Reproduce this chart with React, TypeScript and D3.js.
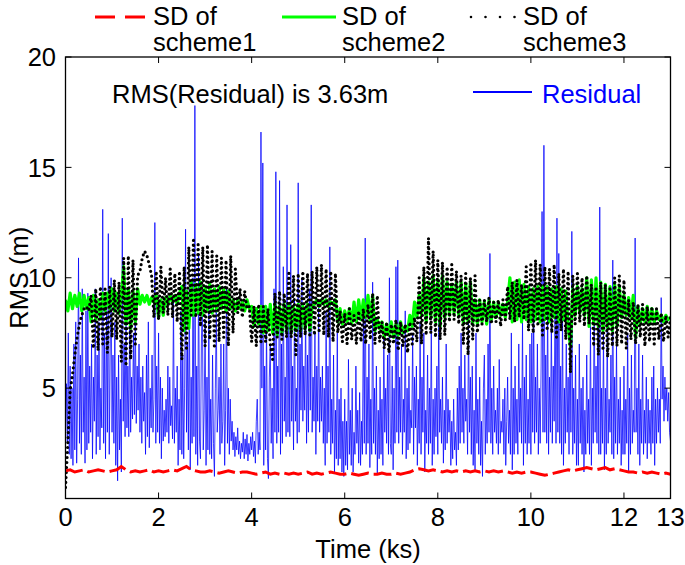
import React from "react";
import * as d3 from "d3";

// ---- data ----
const xTicks = [0, 2, 4, 6, 8, 10, 12, 13];
const yTicks = [0, 5, 10, 15, 20];
const residualStep = 0.02; // ks
const residual = [
  3.0, 5.2, 2.5, 7.5, 2.0, 6.0, 1.8, 5.0, 1.5, 7.0, 2.2, 8.0, 1.6, 4.5, 10.9, 2.5, 6.5, 2.0, 9.5, 3.0, 5.5, 1.6, 8.5, 2.2, 9.3,
  2.5, 6.0, 3.0, 7.0, 1.8, 5.5, 3.5, 9.5, 2.0, 6.5, 2.8, 8.0, 2.2, 5.0, 3.2, 13.1, 2.5, 7.5, 1.8, 8.5, 3.0, 12.0, 2.0, 6.5, 10.0,
  3.0, 6.5, 2.5, 8.0, 1.5, 5.5, 0.8, 6.5, 2.2, 4.5, 1.2, 12.7, 3.5, 7.0, 2.8, 9.0, 3.2, 6.0, 2.8, 9.0, 3.0, 5.5, 3.6, 7.5, 3.8,
  8.5, 3.4, 6.0, 4.0, 7.0, 3.0, 5.5, 2.5, 6.0, 3.5, 4.8, 2.0, 6.5, 2.8, 8.0, 2.3, 5.0, 3.2, 6.5, 3.0, 4.5, 12.5, 2.5, 6.0, 3.0,
  7.5, 2.5, 5.5, 1.8, 5.0, 2.6, 4.0, 2.8, 4.5, 3.0, 6.0, 2.5, 5.5, 3.3, 4.2, 2.7, 9.0, 2.5, 5.0, 3.0, 6.0, 1.5, 4.5, 2.2, 8.5,
  2.0, 6.5, 1.8, 5.0, 12.2, 3.0, 7.0, 2.2, 9.5, 1.3, 5.5, 2.5, 10.0, 2.8, 17.8, 2.0, 6.0, 1.5, 11.0, 2.6, 1.8, 7.0, 9.5, 2.2, 4.0,
  8.0, 1.5, 5.5, 2.2, 9.0, 2.0, 4.5, 1.8, 6.5, 2.5, 1.0, 5.0, 8.5, 3.0, 4.0, 5.5, 2.0, 7.0, 2.5, 3.5, 7.0, 1.5, 4.0, 9.5, 2.5,
  5.0, 2.0, 4.5, 2.6, 3.5, 2.2, 3.0, 1.9, 2.8, 2.2, 3.2, 2.0, 2.6, 1.8, 2.5, 2.1, 3.0, 1.8, 2.7, 2.0, 2.9, 1.7, 2.5, 2.0, 2.8,
  2.2, 3.0, 1.9, 2.6, 1.6, 3.5, 4.5, 2.0, 3.0, 2.2, 16.6, 5.0, 15.2, 1.5, 6.0, 2.2, 8.0, 1.8, 0.9, 5.5, 7.0, 2.5, 5.0, 1.8, 9.5,
  3.0, 14.8, 2.5, 6.0, 3.0, 14.4, 2.0, 7.0, 2.5, 10.5, 3.5, 5.5, 2.8, 13.3, 3.0, 8.0, 2.8, 11.5, 3.5, 6.0, 2.2, 9.0, 3.5, 5.0, 2.5,
  14.3, 3.0, 7.0, 4.0, 10.0, 3.5, 6.0, 4.0, 8.5, 2.5, 6.5, 3.0, 9.5, 4.0, 13.3, 3.0, 5.5, 3.5, 7.5, 2.0, 6.0, 3.5, 9.0, 3.0, 5.5,
  3.5, 6.0, 2.5, 5.0, 1.5, 8.5, 2.5, 6.0, 3.0, 11.4, 2.0, 4.5, 2.5, 6.5, 1.2, 4.0, 1.8, 7.5, 1.5, 4.5, 1.8, 5.0, 1.2, 3.5, 1.0,
  4.5, 1.5, 3.5, 1.3, 6.3, 2.0, 4.0, 1.5, 5.0, 1.2, 3.0, 2.0, 6.0, 2.5, 4.0, 1.6, 4.8, 1.5, 3.5, 2.0, 8.5, 2.5, 11.8, 2.0, 5.5,
  2.5, 7.0, 1.4, 4.5, 2.0, 9.8, 2.5, 5.0, 2.0, 6.0, 1.1, 4.0, 1.8, 5.5, 2.0, 4.5, 1.5, 7.5, 3.0, 5.0, 2.5, 6.5, 2.0, 10.0, 2.5,
  2.0, 6.0, 1.3, 5.0, 2.5, 10.5, 3.0, 10.8, 2.5, 5.5, 3.0, 7.0, 2.0, 4.5, 3.0, 8.5, 1.8, 5.0, 2.2, 6.0, 2.5, 4.0, 3.2, 7.5, 2.0,
  5.5, 3.2, 6.0, 1.5, 4.5, 2.5, 8.0, 2.0, 5.5, 3.0, 7.5, 1.2, 4.0, 2.5, 6.5, 2.0, 5.0, 2.5, 7.8, 1.5, 4.5, 2.0, 5.0, 2.8, 6.0,
  2.0, 8.0, 3.0, 4.5, 2.5, 5.5, 1.6, 4.0, 2.2, 7.0, 2.5, 4.5, 3.0, 4.0, 1.5, 3.5, 1.8, 4.5, 2.2, 3.0, 1.5, 5.0, 2.2, 6.0, 2.5,
  7.5, 3.0, 5.0, 2.5, 6.5, 3.5, 4.5, 2.0, 8.0, 3.0, 5.5, 2.0, 6.0, 1.5, 4.0, 1.3, 7.5, 2.5, 4.5, 2.0, 5.5, 1.5, 3.5, 1.0, 5.0,
  6.5, 2.0, 4.5, 2.5, 7.0, 3.0, 11.1, 2.5, 5.0, 2.0, 6.0, 3.0, 4.0, 2.5, 5.0, 2.0, 6.3, 2.5, 3.5, 3.0, 4.5, 2.0, 5.0, 1.5, 3.5,
  5.5, 2.5, 4.0, 2.0, 7.5, 1.3, 5.0, 2.0, 6.0, 2.5, 4.5, 2.0, 7.0, 3.0, 5.0, 2.5, 8.0, 1.5, 5.5, 2.5, 6.5, 2.0, 4.5, 2.5, 7.0,
  2.0, 7.5, 3.0, 8.5, 2.5, 5.5, 3.0, 7.0, 2.0, 5.0, 2.5, 6.0, 13.0, 3.0, 16.0, 3.0, 6.5, 2.5, 9.0, 2.0, 5.5, 3.0, 8.0, 2.5, 6.0,
  3.5, 9.5, 2.5, 12.7, 3.0, 11.1, 2.5, 6.0, 2.0, 8.5, 1.5, 5.0, 2.5, 7.0, 3.0, 5.5, 2.0, 8.0, 3.0, 12.1, 2.0, 5.0, 2.5, 6.5, 1.5,
  4.5, 1.5, 7.0, 2.5, 5.0, 2.0, 5.5, 1.2, 4.0, 2.0, 6.5, 2.5, 4.5, 2.0, 8.0, 1.5, 5.0, 2.5, 9.5, 3.0, 6.0, 2.5, 8.5, 2.0, 13.2,
  2.0, 5.0, 2.5, 7.5, 1.3, 5.0, 2.0, 8.0, 2.5, 4.5, 3.0, 6.5, 2.0, 10.8, 1.8, 5.5, 2.5, 7.0, 2.0, 4.5, 2.5, 5.5, 1.5, 4.0, 2.0,
  6.0, 2.0, 4.5, 2.5, 7.5, 1.2, 5.0, 2.0, 6.5, 2.5, 4.0, 3.0, 11.8, 3.0, 5.0, 2.0, 7.0, 1.5, 4.5, 2.5, 6.5, 2.0, 4.0, 2.5, 5.5,
  1.8, 4.5, 2.5, 4.0, 2.0, 5.5, 2.5, 6.0, 1.5, 4.5, 2.5, 5.0, 3.0, 4.5, 2.5, 9.1, 4.5, 6.0, 3.5, 5.5, 4.0, 5.0, 3.5, 4.8, 3.0,
  2.6,
];

const schemeStep = 0.05; // ks
const scheme3 = [
  0.5, 2.5, 4.9, 5.6, 6.5, 7.3, 7.9, 8.3, 8.6, 8.7, 8.5, 9.2, 6.8, 9.5, 6.7, 9.6, 7.0, 9.5, 6.6, 9.6,
  7.3, 9.9, 7.2, 9.8, 6.2, 10.9, 6.0, 11.0, 6.3, 10.8, 7.0, 10.1, 10.3, 10.9, 11.2, 11.0, 10.6, 10.1, 8.2, 10.3,
  8.1, 10.5, 8.4, 10.0, 8.3, 10.4, 8.2, 10.2, 8.0, 10.3, 6.3, 10.5, 6.7, 11.4, 8.3, 11.7, 8.2, 11.5, 7.8, 11.4,
  6.9, 11.5, 7.2, 11.2, 6.8, 11.0, 7.1, 10.9, 7.3, 10.8, 6.9, 11.0, 7.5, 10.4, 8.4, 9.5, 8.2, 9.4, 8.6, 8.7,
  7.1, 8.7, 6.9, 8.8, 7.0, 8.7, 7.1, 8.6, 7.0, 6.3, 9.3, 7.3, 9.4, 7.2, 9.3, 7.3, 10.2, 7.3, 10.1, 6.5,
  10.2, 7.3, 10.3, 7.4, 10.2, 7.3, 10.3, 7.4, 10.5, 7.5, 10.6, 7.4, 10.4, 7.3, 10.3, 7.1, 10.2, 7.5, 8.5, 7.1,
  8.4, 7.0, 8.6, 7.2, 8.3, 7.0, 8.5, 7.1, 8.6, 7.0, 8.8, 7.2, 9.3, 7.0, 9.2, 7.1, 8.0, 6.8, 8.0, 6.6,
  7.9, 7.0, 8.1, 6.7, 8.0, 6.9, 7.9, 6.6, 8.0, 7.0, 8.2, 7.1, 10.0, 7.0, 10.5, 7.4, 11.8, 7.5, 11.2, 7.3,
  10.8, 7.2, 10.7, 7.4, 10.5, 8.0, 10.6, 8.1, 10.3, 7.9, 10.1, 7.0, 10.2, 6.5, 10.0, 7.2, 10.1, 7.5, 9.0, 7.9,
  9.0, 8.0, 9.1, 7.9, 8.9, 8.0, 9.0, 7.8, 9.0, 8.1, 9.6, 8.1, 9.8, 8.0, 9.9, 8.2, 9.7, 8.1, 10.5, 7.6,
  10.7, 7.5, 10.8, 7.8, 10.6, 7.4, 10.5, 7.6, 10.4, 7.5, 10.6, 7.3, 10.2, 7.6, 10.4, 7.2, 10.3, 5.7, 10.1, 7.9,
  10.2, 8.0, 10.0, 7.8, 10.1, 7.9, 9.7, 6.9, 9.6, 6.5, 9.8, 6.7, 9.7, 6.4, 9.6, 6.9, 10.0, 6.9, 10.1, 7.0,
  9.9, 6.8, 9.0, 7.2, 8.9, 7.0, 8.8, 7.3, 8.8, 6.9, 8.7, 7.1, 8.7, 7.0, 8.6, 7.2, 8.4, 7.1, 8.3, 7.3,
  8.2,
];

const scheme2 = [
  9.0, 8.5, 9.3, 8.6, 9.2, 8.7, 9.3, 8.5, 9.2, 8.6, 9.1, 8.0, 9.2, 8.1, 9.0, 8.2, 9.3, 8.5, 9.3, 8.6,
  9.5, 8.5, 9.3, 8.4, 9.2, 10.5, 7.9, 9.5, 7.7, 9.4, 8.0, 9.5, 8.8, 9.2, 8.9, 9.2, 8.8, 9.1, 8.9, 9.2,
  8.2, 9.0, 8.3, 9.1, 8.8, 9.2, 8.9, 9.2, 8.8, 9.3, 9.6, 7.6, 9.4, 7.7, 9.8, 8.3, 9.7, 8.4, 9.8, 8.3,
  9.6, 8.5, 9.7, 8.4, 9.5, 8.5, 9.6, 8.6, 9.5, 8.5, 9.4, 8.6, 9.0, 8.5, 9.0, 8.6, 8.9, 8.5, 9.0, 8.6,
  8.7, 7.8, 8.6, 7.9, 8.7, 7.5, 8.7, 7.6, 8.8, 7.5, 8.8, 7.4, 8.7, 7.5, 8.8, 7.6, 8.8, 7.5, 8.7, 7.6,
  8.8, 7.6, 8.7, 7.7, 8.8, 7.6, 8.7, 8.8, 9.0, 8.7, 9.0, 8.8, 9.0, 8.7, 8.9, 8.8, 9.0, 8.0, 8.6, 7.9,
  8.5, 8.0, 8.6, 7.9, 8.9, 8.0, 9.0, 8.1, 9.0, 8.2, 9.2, 8.0, 9.2, 7.6, 8.1, 7.7, 8.0, 7.3, 7.9, 7.4,
  8.0, 7.3, 7.9, 7.4, 8.0, 7.5, 7.8, 7.6, 8.3, 7.8, 8.9, 8.2, 9.2, 8.3, 10.0, 8.0, 9.8, 8.2, 10.1, 8.0,
  9.9, 7.8, 10.1, 8.2, 9.8, 8.3, 9.7, 8.4, 9.8, 8.3, 9.8, 7.9, 9.7, 8.0, 9.8, 7.9, 9.0, 7.9, 9.0, 8.0,
  8.9, 7.9, 9.0, 8.1, 8.9, 8.2, 8.9, 8.3, 8.8, 8.2, 8.9, 10.0, 8.0, 9.8, 8.1, 9.9, 8.0, 9.7, 8.1, 9.6,
  8.0, 9.5, 8.1, 9.6, 8.0, 9.6, 8.1, 9.6, 8.0, 9.5, 8.2, 9.6, 8.0, 9.5, 8.1, 9.4, 7.8, 6.9, 9.5, 8.3,
  9.6, 8.4, 9.5, 8.3, 10.0, 7.8, 9.9, 7.9, 10.0, 7.8, 9.8, 7.6, 9.7, 7.7, 9.6, 7.6, 9.7, 7.8, 9.6, 8.2,
  9.2, 8.3, 9.1, 8.2, 9.2, 7.3, 8.7, 7.9, 8.6, 8.0, 8.7, 7.9, 8.6, 8.0, 8.5, 8.1, 8.3, 8.0, 8.3, 8.1,
  8.2,
];

const scheme1Step = 0.1; // ks
const scheme1 = [
  1.25, 1.3, 1.2, 1.25, 1.3, 1.2, 1.25, 1.3, 1.25, 1.2,
  1.25, 1.3, 1.45, 1.3, 1.2, 1.25, 1.2, 1.25, 1.3, 1.2,
  1.25, 1.2, 1.25, 1.3, 1.25, 1.35, 1.45, 1.3, 1.25, 1.2,
  1.2, 1.25, 1.2, 1.15, 1.2, 1.25, 1.2, 1.15, 1.2, 1.2,
  1.15, 1.1, 1.15, 1.2, 1.1, 1.15, 1.1, 1.15, 1.1, 1.15,
  1.1, 1.15, 1.2, 1.1, 1.15, 1.1, 1.15, 1.2, 1.15, 1.1,
  1.1, 1.15, 1.1, 1.05, 1.1, 1.15, 1.1, 1.1, 1.15, 1.1,
  1.1, 1.15, 1.1, 1.15, 1.2, 1.3, 1.35, 1.3, 1.25, 1.3,
  1.25, 1.2, 1.25, 1.2, 1.25, 1.2, 1.25, 1.2, 1.25, 1.2,
  1.25, 1.2, 1.25, 1.2, 1.25, 1.2, 1.15, 1.2, 1.15, 1.2,
  1.2, 1.15, 1.1, 1.05, 1.1, 1.15, 1.2, 1.25, 1.3, 1.25,
  1.3, 1.35, 1.4, 1.35, 1.3, 1.35, 1.4, 1.3, 1.35, 1.3,
  1.25, 1.2, 1.2, 1.15, 1.2, 1.15, 1.2, 1.15, 1.1, 1.15,
  1.1,
];

// ---- layout ----
const W = 685;
const H = 565;
const L = 65.5;
const R = 670.5;
const T = 57;
const B = 498.5;
const FONT = "'Liberation Sans', Arial, Helvetica, sans-serif";
const FS = 25.5;

const x = d3.scaleLinear().domain([0, 13]).range([L, R]);
const y = d3.scaleLinear().domain([0, 20]).range([B, T]);

function pathFor(values: number[], step: number) {
  const line = d3
    .line<number>()
    .x((_, i) => x(Math.min(13, i * step)))
    .y((v) => y(v));
  return line(values) || "";
}

export default function App() {
  const tickLen = 6;
  return (
    <svg
      width={W}
      height={H}
      viewBox={`0 0 ${W} ${H}`}
      style={{ position: "absolute", left: 0, top: 0, background: "#fff" }}
      fontFamily={FONT}
    >
      <defs>
        <clipPath id="plotclip">
          <rect x={L} y={T} width={R - L} height={B - T} />
        </clipPath>
      </defs>
      <rect x={0} y={0} width={W} height={H} fill="#fff" />

      <g clipPath="url(#plotclip)">
        <path d={pathFor(residual, residualStep)} fill="none" stroke="#0000ff" strokeWidth={0.9} strokeOpacity={0.85} />
        <path d={pathFor(scheme2, schemeStep)} fill="none" stroke="#00ff00" strokeWidth={3.2} strokeLinejoin="round" />
        <path
          d={pathFor(scheme3, schemeStep)}
          fill="none"
          stroke="#000"
          strokeWidth={3.2}
          strokeLinecap="round"
          strokeDasharray="0 5"
        />
        <path
          d={pathFor(scheme1, scheme1Step)}
          fill="none"
          stroke="#ff0000"
          strokeWidth={3}
          strokeDasharray="18 5"
        />
      </g>

      {/* axes box */}
      <rect x={L} y={T} width={R - L} height={B - T} fill="none" stroke="#000" strokeWidth={1.3} />
      {xTicks.map((t) => (
        <g key={`xt${t}`}>
          <line x1={x(t)} x2={x(t)} y1={B} y2={B - tickLen} stroke="#000" strokeWidth={1} />
          <line x1={x(t)} x2={x(t)} y1={T} y2={T + tickLen} stroke="#000" strokeWidth={1} />
          <text x={x(t)} y={526} textAnchor="middle" fontSize={FS} fill="#000">
            {t}
          </text>
        </g>
      ))}
      {yTicks.map((t) => (
        <g key={`yt${t}`}>
          <line x1={L} x2={L + tickLen} y1={y(t)} y2={y(t)} stroke="#000" strokeWidth={1} />
          <line x1={R} x2={R - tickLen} y1={y(t)} y2={y(t)} stroke="#000" strokeWidth={1} />
          {t > 0 && (
            <text x={56} y={y(t)} dy="0.36em" textAnchor="end" fontSize={FS} fill="#000">
              {t}
            </text>
          )}
        </g>
      ))}
      <text x={(L + R) / 2} y={558} textAnchor="middle" fontSize={FS} fill="#000">
        Time (ks)
      </text>
      <text
        transform={`translate(28, ${(T + B) / 2}) rotate(-90)`}
        textAnchor="middle"
        fontSize={FS}
        fill="#000"
      >
        RMS (m)
      </text>

      {/* top legend */}
      <line x1={95} x2={145} y1={17} y2={17} stroke="#ff0000" strokeWidth={3} strokeDasharray="20 10" />
      <text x={153} y={25} fontSize={FS} fill="#000">SD of</text>
      <text x={153} y={51} fontSize={FS} fill="#000">scheme1</text>

      <line x1={282} x2={336} y1={17} y2={17} stroke="#00ff00" strokeWidth={3} />
      <text x={342} y={25} fontSize={FS} fill="#000">SD of</text>
      <text x={342} y={51} fontSize={FS} fill="#000">scheme2</text>

      <line
        x1={471}
        x2={517}
        y1={17}
        y2={17}
        stroke="#000"
        strokeWidth={2.6}
        strokeLinecap="round"
        strokeDasharray="0 14.5"
      />
      <text x={523} y={25} fontSize={FS} fill="#000">SD of</text>
      <text x={523} y={51} fontSize={FS} fill="#000">scheme3</text>

      {/* in-plot annotations */}
      <text x={112} y={103} fontSize={FS} fill="#000">
        RMS(Residual) is 3.63m
      </text>
      <line x1={473} x2={532} y1={92} y2={92} stroke="#0000ff" strokeWidth={2} />
      <text x={542} y={103} fontSize={FS} fill="#0000ff">
        Residual
      </text>
    </svg>
  );
}
